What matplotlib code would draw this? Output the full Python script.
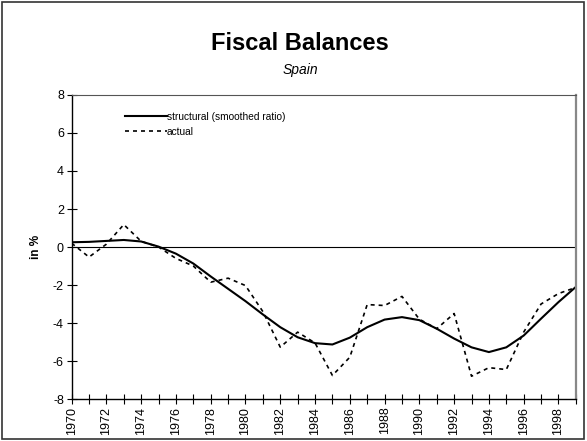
import matplotlib
matplotlib.use('Agg')
import matplotlib.pyplot as plt
import numpy as np

plt.rcParams['font.family'] = ['Liberation Sans', 'DejaVu Sans']

# data (in % of GDP)
years = list(range(1970, 2000))
structural = [0.25, 0.27, 0.32, 0.37, 0.29, 0.02, -0.35, -0.87, -1.55, -2.2,
              -2.85, -3.55, -4.22, -4.75, -5.06, -5.13, -4.77, -4.22, -3.82, -3.69,
              -3.85, -4.3, -4.82, -5.28, -5.53, -5.28, -4.66, -3.77, -2.9, -2.1]
actual = [0.2, -0.53, 0.15, 1.18, 0.3, 0.0, -0.6, -1.0, -1.85, -1.64,
          -2.03, -3.4, -5.27, -4.48, -5.05, -6.76, -5.8, -3.03, -3.08, -2.6,
          -3.8, -4.3, -3.5, -6.8, -6.35, -6.45, -4.48, -3.0, -2.45, -2.13]
year_labels = [str(y) for y in range(1970, 1999, 2)]
y_ticks = [-8, -6, -4, -2, 0, 2, 4, 6, 8]

fig = plt.figure(figsize=(5.87, 4.41), dpi=100)
ax = fig.add_axes([0.122, 0.0952, 0.859, 0.6894])

ax.plot(years, structural, color='black', lw=1.5, label='structural (smoothed ratio)')
ax.plot(years, actual, color='black', lw=1.2, dashes=(2.4, 2.4), label='actual')
ax.axhline(0, color='black', lw=0.8)

ax.set_xlim(1970, 1999)
ax.set_ylim(-8, 8)
ax.set_yticks(y_ticks)
ax.set_yticklabels([str(v) for v in y_ticks])
ax.set_xticks(range(1970, 1999, 2))
ax.set_xticklabels(year_labels, rotation=90)
ax.set_xticks(range(1970, 2000), minor=True)
ax.tick_params(axis='both', direction='inout', length=7, width=0.8, labelsize=9, pad=2)
ax.tick_params(axis='x', which='minor', direction='inout', length=7, width=0.8)

for side in ['left', 'bottom']:
    ax.spines[side].set_color('black')
    ax.spines[side].set_linewidth(1.0)
ax.spines['top'].set_color('#555555')
ax.spines['top'].set_linewidth(0.8)
ax.spines['right'].set_color('#888888')
ax.spines['right'].set_linewidth(1.6)

ax.set_ylabel('in %', fontsize=8.5, fontweight='bold', labelpad=8)

leg = ax.legend(loc='upper left', bbox_to_anchor=(0.106, 0.945), frameon=False,
                fontsize=7.3, handlelength=4.1, handletextpad=0.0,
                borderpad=0, borderaxespad=0, labelspacing=0.5)

fig.text(0.511, 0.902, 'Fiscal Balances', ha='center', va='center',
         fontsize=17, fontweight='bold')
fig.text(0.511, 0.841, 'Spain', ha='center', va='center',
         fontsize=10, style='italic')

# chart area border
fig.patches.append(plt.Rectangle((2 / 587, 2 / 441), 582 / 587, 437 / 441,
                                 transform=fig.transFigure, fill=False,
                                 edgecolor='#333333', lw=1.2))

fig.savefig('out.png', dpi=100)
